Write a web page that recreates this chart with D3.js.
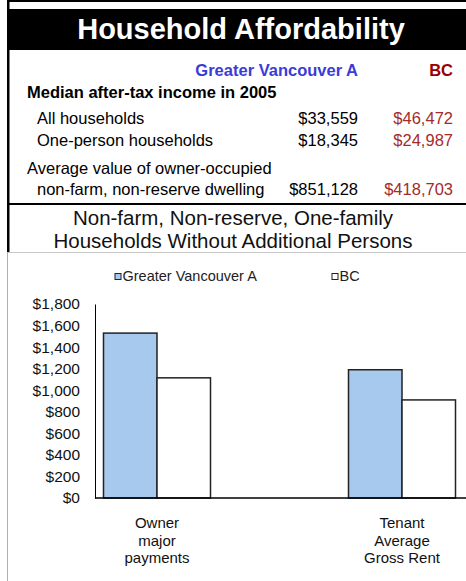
<!DOCTYPE html>
<html>
<head>
<meta charset="utf-8">
<script src="https://cdn.jsdelivr.net/npm/d3@7"></script>
<style>
  body { margin: 0; background: #fff; }
  svg { display: block; font-family: "Liberation Sans", Arial, sans-serif; }
</style>
</head>
<body>
<div id="chart"></div>
<script>
// income table
var regionNames = ["Greater Vancouver A", "BC"];
var rowLabels = ["All households", "One-person households", "non-farm, non-reserve dwelling"];
var gvaIncome = ["$33,559", "$18,345", "$851,128"];
var bcIncome = ["$46,472", "$24,987", "$418,703"];

// bar chart
var categories = [["Owner", "major", "payments"], ["Tenant", "Average", "Gross Rent"]];
var seriesNames = ["Greater Vancouver A", "BC"];
var gvaValues = [1530, 1190];
var bcValues = [1115, 910];
var yTicks = [0, 200, 400, 600, 800, 1000, 1200, 1400, 1600, 1800];

var width = 466, height = 581;
var svg = d3.select("#chart").append("svg").attr("width", width).attr("height", height);

// frame + title
svg.append("rect").attr("x", 7).attr("y", 0).attr("width", width - 7).attr("height", 2).attr("fill", "#000");
svg.append("rect").attr("x", 7).attr("y", 9).attr("width", width - 7).attr("height", 41).attr("fill", "#000");
svg.append("rect").attr("x", 7).attr("y", 0).attr("width", 2.5).attr("height", 252).attr("fill", "#000");
svg.append("rect").attr("x", 7).attr("y", 203).attr("width", width - 7).attr("height", 2).attr("fill", "#000");
svg.append("line").attr("x1", 7).attr("x2", width).attr("y1", 252.5).attr("y2", 252.5).attr("stroke", "#c8c8c8");
svg.append("line").attr("x1", 7.5).attr("x2", 7.5).attr("y1", 252).attr("y2", height).attr("stroke", "#b0b0b0");

svg.append("text").attr("x", 241).attr("y", 39).attr("text-anchor", "middle")
  .attr("style", "font-size:29px;font-weight:bold").attr("fill", "#fff").text("Household Affordability");

// table
var colGva = 358, colBc = 453;
svg.append("text").attr("x", colGva).attr("y", 76).attr("text-anchor", "end")
  .attr("style", "font-size:16.5px;font-weight:bold").attr("fill", "#3b3bd6").text(regionNames[0]);
svg.append("text").attr("x", colBc).attr("y", 76).attr("text-anchor", "end")
  .attr("style", "font-size:16.5px;font-weight:bold").attr("fill", "#990000").text(regionNames[1]);
svg.append("text").attr("x", 27).attr("y", 98)
  .attr("style", "font-size:16.5px;font-weight:bold").attr("fill", "#000").text("Median after-tax income in 2005");
svg.append("text").attr("x", 27).attr("y", 174)
  .attr("style", "font-size:16.5px").attr("fill", "#000").text("Average value of owner-occupied");

var rowY = [124, 146, 195];
rowLabels.forEach(function(label, i) {
  svg.append("text").attr("x", 37).attr("y", rowY[i]).attr("style", "font-size:16.5px").attr("fill", "#000").text(label);
  svg.append("text").attr("x", colGva).attr("y", rowY[i]).attr("text-anchor", "end")
    .attr("style", "font-size:16.5px").attr("fill", "#000").text(gvaIncome[i]);
  svg.append("text").attr("x", colBc).attr("y", rowY[i]).attr("text-anchor", "end")
    .attr("style", "font-size:16.5px").attr("fill", "#a52a2a").text(bcIncome[i]);
});

// chart title
svg.append("text").attr("x", 233).attr("y", 225).attr("text-anchor", "middle")
  .attr("style", "font-size:20.5px").attr("fill", "#111").text("Non-farm, Non-reserve, One-family");
svg.append("text").attr("x", 233).attr("y", 248).attr("text-anchor", "middle")
  .attr("style", "font-size:20.5px").attr("fill", "#111").text("Households Without Additional Persons");

// legend
var fills = ["#a8c9ee", "#fff"];
var legendX = [115, 332];
seriesNames.forEach(function(name, i) {
  svg.append("rect").attr("x", legendX[i]).attr("y", 273.5).attr("width", 6).attr("height", 6)
    .attr("fill", fills[i]).attr("stroke", "#222").attr("stroke-width", 1);
  svg.append("text").attr("x", legendX[i] + 7.5).attr("y", 281).attr("style", "font-size:14.5px").attr("fill", "#222").text(name);
});

// scales
var y = d3.scaleLinear().domain([0, 1800]).range([498, 304]);
var x0 = d3.scaleBand().domain(d3.range(categories.length)).range([34.5, 524.5]);
var x1 = d3.scaleBand().domain([0, 1]).range([-53.5, 53.5]);

var yAxis = svg.append("g").attr("transform", "translate(95,0)")
  .call(d3.axisLeft(y).tickValues(yTicks).tickSize(0).tickPadding(15).tickFormat(function(d) { return "$" + d3.format(",")(d); }));
yAxis.select(".domain").attr("stroke", "#000");
yAxis.selectAll("text").attr("style", "font-size:15.5px;font-family:'Liberation Sans', Arial, sans-serif").attr("fill", "#111");

var groups = svg.append("g").selectAll("g").data(categories).enter().append("g")
  .attr("transform", function(d, i) { return "translate(" + (x0(i) + x0.bandwidth() / 2) + ",0)"; });
groups.each(function(d, i) {
  var vals = [gvaValues[i], bcValues[i]];
  d3.select(this).selectAll("rect").data(vals).enter().append("rect")
    .attr("x", function(v, j) { return x1(j); })
    .attr("width", x1.bandwidth())
    .attr("y", function(v) { return y(v); })
    .attr("height", function(v) { return y(0) - y(v); })
    .attr("fill", function(v, j) { return fills[j]; })
    .attr("stroke", "#222").attr("stroke-width", 1.5);
  var t = d3.select(this).append("text").attr("text-anchor", "middle").attr("style", "font-size:15px").attr("fill", "#111");
  d.forEach(function(line, k) {
    t.append("tspan").attr("x", 0).attr("y", 528 + k * 17.5).text(line);
  });
});

svg.append("line").attr("x1", 95).attr("x2", width).attr("y1", y(0)).attr("y2", y(0)).attr("stroke", "#000").attr("stroke-width", 1.5);
</script>
</body>
</html>
